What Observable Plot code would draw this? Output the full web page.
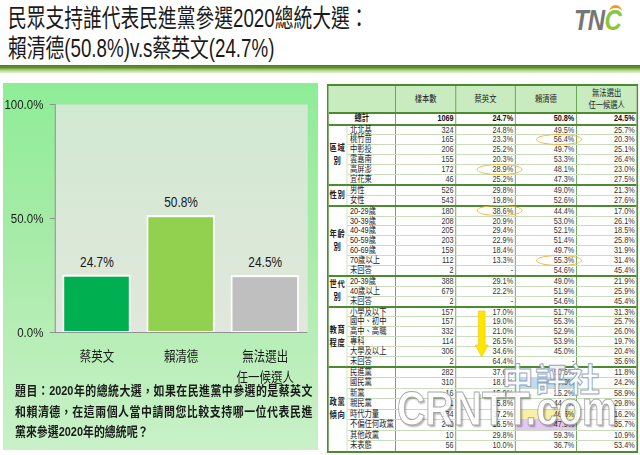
<!DOCTYPE html>
<html>
<head>
<meta charset="utf-8">
<script src="https://cdn.jsdelivr.net/npm/d3@7"></script>
<script src="https://cdn.jsdelivr.net/npm/@observablehq/plot@0.6"></script>
<style>
  html, body { margin: 0; padding: 0; background: #fff; }
  body { width: 640px; height: 455px; position: relative; overflow: hidden;
         font-family: "Liberation Sans", "Noto Sans CJK TC", sans-serif; color: #1a1a1a; }
  .abs { position: absolute; }
  #title { left: 8px; top: 3px; font-size: 25px; line-height: 30px; transform: scaleX(0.75); transform-origin: 0 0; white-space: nowrap; }
  #logo { left: 574px; top: 3px; font-size: 30px; font-weight: bold; font-style: italic; transform: scaleX(0.8); transform-origin: 0 0; letter-spacing: -1px; }
  #rule { left: 0; top: 65px; width: 640px; height: 8px; background: linear-gradient(to bottom, #4e7d22 0%, #5f9330 35%, #9fcf70 60%, #e6f3d9 100%); }
  #panel { left: 3px; top: 83px; width: 315px; height: 367px; background: linear-gradient(to bottom, #8eed97 0%, #a9eba9 45%, #c9f1c8 100%); }
  #chart { left: 3px; top: 90px; transform: scaleX(0.85); transform-origin: 0 0; }
  #question { left: 15px; top: 381px; font-size: 13px; font-weight: bold; line-height: 20.5px; transform: scaleX(0.84); transform-origin: 0 0; width: 354px; }
  #question div { white-space: nowrap; }
  #question .j { text-align: justify; text-align-last: justify; white-space: normal; }

  #tbl { left: 327px; top: 84px; width: 366px; box-sizing: border-box; border: 2px solid #4d8b31; background: #fff;
         transform: scaleX(0.85); transform-origin: 0 0; font-size: 8.6px; color: #333; }
  .row, .drow { display: flex; box-sizing: border-box; }
  .cell { box-sizing: border-box; border-right: 1.5px solid #5c9a3c; position: relative; white-space: nowrap; flex: none; }
  .row > .cell:last-child, .drow > .cell:last-child { border-right: none; }
  .head { height: 28px; background: #c8ebc0; border-bottom: 2px solid #4d8b31; }
  .head .cell { display: flex; align-items: center; justify-content: center; text-align: center; line-height: 12px; color: #222; }
  .total { height: 9.5px; line-height: 9.5px; font-weight: bold; color: #111; }
  .group { display: flex; border-top: 2px solid #4d8b31; }
  .glabel { width: 22px; flex: none; box-sizing: border-box; border-right: 1px solid #c9dcbc; display: flex; align-items: center; justify-content: center;
            text-align: center; font-weight: bold; line-height: 13px; letter-spacing: 1px; color: #222; }
  .rows { display: flex; flex-direction: column; }
  .drow + .drow { border-top: 1px solid #c9dcbc; }
  .num { text-align: right; padding-right: 2px; }
  .sub { text-align: left; padding-left: 3px; color: #222; }
  .ring { position: absolute; left: 24px; top: -1.5px; width: 54px; height: 11px; border: 1.5px solid #f2b33c; border-radius: 50%; box-sizing: border-box; }
  #wm1 { left: 502px; top: 354px; font-size: 33px; font-weight: bold; color: #fff; -webkit-text-stroke: 1px #8aa0b8; opacity: 0.9; transform: scaleX(0.95); transform-origin: 0 0; letter-spacing: 2px; }
  #wm2 { left: 397px; top: 384px; font-size: 49px; line-height: 49px; font-weight: bold; color: #fff; -webkit-text-stroke: 1px #9a9a9a; text-shadow: 2px 2px 2px rgba(0,0,0,0.35); opacity: 0.88; transform: scaleX(0.8); transform-origin: 0 0; }
</style>
</head>
<body>
<div id="title" class="abs"></div>
<div id="logo" class="abs"><span style="color:#767676">T</span><span style="color:#767676">N</span><span style="color:#8cc63f;position:relative">C<span style="position:absolute;left:6px;top:2px;width:16px;height:10px;border-top:3px solid #f39a1e;border-radius:50%"></span></span></div>
<div id="rule" class="abs"></div>
<div id="panel" class="abs"></div>
<div id="chart" class="abs"></div>
<div id="question" class="abs"></div>
<div id="tbl" class="abs"></div>
<div id="wm1" class="abs">中評社</div>
<div id="wm2" class="abs">CRNTT.com</div>
<script>
// ---------- data ----------
const titleLines = ["民眾支持誰代表民進黨參選2020總統大選：", "賴清德(50.8%)v.s蔡英文(24.7%)"];
const candidates = ["蔡英文", "賴清德", "無法選出\n任一候選人"];
const overallShare = [24.7, 50.8, 24.5];
const barColors = ["#00b050", "#92d050", "#bfbfbf"];
const yTicks = [0, 50, 100];
const questionLines = [
  "題目：2020年的總統大選，如果在民進黨中參選的是蔡英文",
  "和賴清德，在這兩個人當中請問您比較支持哪一位代表民進",
  "黨來參選2020年的總統呢？"
];

const tableHeader = ["樣本數", "蔡英文", "賴清德", "無法選出<br>任一候選人"];
const totalRow = ["總計", 1069, 24.7, 50.8, 24.5];
const groupNames = ["區域別", "性別", "年齡別", "世代別", "教育程度", "政黨傾向"];
const regionRows = [
  ["北北基", 324, 24.8, 49.5, 25.7],
  ["桃竹苗", 165, 23.3, 56.4, 20.3],
  ["中彰投", 206, 25.2, 49.7, 25.1],
  ["雲嘉南", 155, 20.3, 53.3, 26.4],
  ["高屏澎", 172, 28.9, 48.1, 23.0],
  ["宜花東", 46, 25.2, 47.3, 27.5]
];
const genderRows = [
  ["男性", 526, 29.8, 49.0, 21.3],
  ["女性", 543, 19.8, 52.6, 27.6]
];
const ageRows = [
  ["20-29歲", 180, 38.6, 44.4, 17.0],
  ["30-39歲", 208, 20.9, 53.0, 26.1],
  ["40-49歲", 205, 29.4, 52.1, 18.5],
  ["50-59歲", 203, 22.9, 51.4, 25.8],
  ["60-69歲", 159, 18.4, 49.7, 31.9],
  ["70歲以上", 112, 13.3, 55.3, 31.4],
  ["未回答", 2, null, 54.6, 45.4]
];
const generationRows = [
  ["20-39歲", 388, 29.1, 49.0, 21.9],
  ["40歲以上", 679, 22.2, 51.9, 25.9],
  ["未回答", 2, null, 54.6, 45.4]
];
const educationRows = [
  ["小學及以下", 157, 17.0, 51.7, 31.3],
  ["國中、初中", 157, 19.0, 55.3, 25.7],
  ["高中、高職", 332, 21.0, 52.9, 26.0],
  ["專科", 114, 26.5, 53.9, 19.7],
  ["大學及以上", 306, 34.6, 45.0, 20.4],
  ["未回答", 2, 64.4, null, 35.6]
];
const partyRows = [
  ["民進黨", 282, 37.6, 50.6, 11.8],
  ["國民黨", 310, 18.8, 57.0, 24.2],
  ["新黨", 16, 15.9, 25.2, 58.9],
  ["親民黨", 21, 25.8, 44.4, 29.8],
  ["時代力量", 134, 37.2, 46.6, 16.2],
  ["不偏任何政黨", 240, 16.5, 47.9, 35.7],
  ["其他政黨", 10, 29.8, 59.3, 10.9],
  ["未表態", 56, 10.0, 36.7, 53.4]
];
// annotations: [group index, row label, column index (2=蔡,3=賴)]
const circledCells = [[0, "桃竹苗", 3], [0, "高屏澎", 2], [2, "20-29歲", 2], [2, "70歲以上", 3]];
const shadedCells = [[5, "國民黨", 3, "#bcdcf3"], [5, "時代力量", 3, "#f6f1a6"], [5, "不偏任何政黨", 3, "#e4c9f3"]];
const arrowCell = [4, "小學及以下", 2];

// ---------- title & question ----------
document.getElementById("title").innerHTML = titleLines.map(t => `<div>${t}</div>`).join("");
document.getElementById("question").innerHTML =
  questionLines.map((t, i) => `<div class="${i < 2 ? "j" : ""}">${t}</div>`).join("");

// ---------- bar chart ----------
const FONT = '"Liberation Sans", "Noto Sans CJK TC", sans-serif';
const bars = candidates.map((name, i) => ({name, value: overallShare[i]}));
const pct = d => d.toFixed(1) + "%";

const chart = Plot.plot({
  width: 371,
  height: 300,
  marginLeft: 61,
  marginRight: 13,
  marginTop: 14,
  marginBottom: 58,
  style: {background: "transparent", fontFamily: FONT, color: "#1a1a1a", overflow: "visible"},
  x: {domain: candidates, paddingInner: 0.21, paddingOuter: 0.105, axis: null},
  y: {domain: [0, 100], axis: null},
  color: {domain: candidates, range: barColors},
  marks: [
    Plot.frame({fill: "url(#plotbg)"}),
    Plot.barY(bars, {x: "name", y: "value", fill: "name", stroke: "white", strokeWidth: 2}),
    Plot.text(bars, {x: "name", y: "value", text: d => pct(d.value), dy: -14, fontSize: 14, fill: "#1a1a1a"}),
    Plot.text(bars, {x: "name", text: "name", frameAnchor: "bottom", lineAnchor: "top", dy: 13, fontSize: 13.5, lineHeight: 1.6, fill: "#1a1a1a"}),
    Plot.axisY({ticks: yTicks, tickFormat: pct, tickSize: 6, tickPadding: 8, fontSize: 13.5, stroke: "#8a8a8a", fill: "#1a1a1a", label: null}),
    Plot.frame({anchor: "left", stroke: "#8a8a8a"}),
    Plot.ruleY([0], {stroke: "#8a8a8a"})
  ]
});
const NS = "http://www.w3.org/2000/svg";
const defs = document.createElementNS(NS, "defs");
const grad = document.createElementNS(NS, "linearGradient");
grad.setAttribute("id", "plotbg");
grad.setAttribute("x1", "0"); grad.setAttribute("y1", "0");
grad.setAttribute("x2", "0"); grad.setAttribute("y2", "1");
[["0", "#d1e9d1"], ["1", "#e1e7dc"]].forEach(([o, c]) => {
  const st = document.createElementNS(NS, "stop");
  st.setAttribute("offset", o); st.setAttribute("stop-color", c);
  grad.appendChild(st);
});
defs.appendChild(grad);
chart.insertBefore(defs, chart.firstChild);
document.getElementById("chart").appendChild(chart);

// ---------- table ----------
const groupRows = [regionRows, genderRows, ageRows, generationRows, educationRows, partyRows];
const colW = [57, 71, 70, 72, 70];          // sub, sample, 蔡, 賴, 無法
const rowH = [8.9, 8.9, 8.9, 8.9, 8.9, 9.5]; // content height per group
const fmt = v => v == null ? "-" : pct(v);
const groupLabel = g => g.length <= 2 ? g : g.slice(0, 2) + "<br>" + g.slice(2);

let html = `<div class="row head"><div class="cell" style="width:${22 + colW[0]}px"></div>` +
  tableHeader.map((h, i) => `<div class="cell" style="width:${colW[i + 1]}px">${h}</div>`).join("") + `</div>`;
html += `<div class="row total"><div class="cell" style="width:${22 + colW[0]}px;text-align:center">${totalRow[0]}</div>` +
  `<div class="cell num" style="width:${colW[1]}px">${totalRow[1]}</div>` +
  [2, 3, 4].map(c => `<div class="cell num" style="width:${colW[c]}px">${fmt(totalRow[c])}</div>`).join("") + `</div>`;

groupRows.forEach((rows, gi) => {
  const h = rowH[gi];
  html += `<div class="group"><div class="glabel">${groupLabel(groupNames[gi])}</div><div class="rows">`;
  rows.forEach((r, ri) => {
    const H = ri === 0 ? h : h + 1;
    html += `<div class="drow" style="height:${H}px;line-height:${h}px">`;
    html += `<div class="cell sub" style="width:${colW[0]}px">${r[0]}</div><div class="cell num" style="width:${colW[1]}px">${r[1]}</div>`;
    for (let c = 2; c <= 4; c++) {
      let extra = "", bg = "";
      if (circledCells.some(([g, l, col]) => g === gi && l === r[0] && col === c)) extra += `<span class="ring"></span>`;
      const sh = shadedCells.find(([g, l, col]) => g === gi && l === r[0] && col === c);
      if (sh) bg = `;background:${sh[3]}`;
      if (arrowCell[0] === gi && arrowCell[1] === r[0] && arrowCell[2] === c) {
        extra += `<svg style="position:absolute;left:22px;top:0;overflow:visible" width="16" height="50"><polygon points="4,3 12,3 12,37 15.6,37 8,49 0.4,37 4,37" fill="#ffe600" stroke="#f0c400" stroke-width="0.6"/></svg>`;
      }
      html += `<div class="cell num" style="width:${colW[c]}px${bg}">${extra}${fmt(r[c])}</div>`;
    }
    html += `</div>`;
  });
  html += `</div></div>`;
});
document.getElementById("tbl").innerHTML = html;
</script>
</body>
</html>
